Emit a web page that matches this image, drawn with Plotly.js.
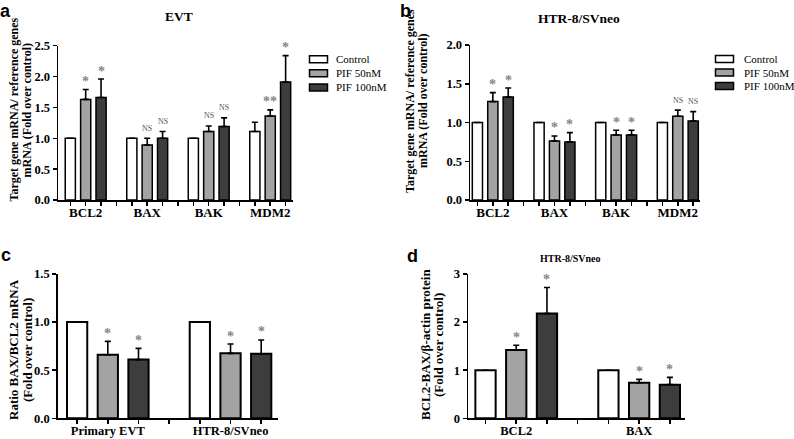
<!DOCTYPE html>
<html>
<head>
<meta charset="utf-8">
<script src="https://cdn.plot.ly/plotly-3.0.1.min.js"></script>
<style>html,body{margin:0;padding:0;background:#fff;}#chart{width:794px;height:439px;}</style>
</head>
<body>
<div id="chart"></div>
<script>
// ---------- DATA ----------
const seriesNames = ['Control', 'PIF 50nM', 'PIF 100nM'];

// Panel a: EVT
const evtGenes = ['BCL2', 'BAX', 'BAK', 'MDM2'];
const evtControl = [1.00, 1.00, 1.00, 1.11];
const evtPif50 = [1.63, 0.89, 1.11, 1.36];
const evtPif100 = [1.66, 1.00, 1.19, 1.91];
const evtControlErr = [0, 0, 0, 0.15];
const evtPif50Err = [0.16, 0.11, 0.09, 0.10];
const evtPif100Err = [0.30, 0.11, 0.14, 0.43];
const evtPif50Sig = ['*', 'NS', 'NS', '**'];
const evtPif100Sig = ['*', 'NS', 'NS', '*'];

// Panel b: HTR-8/SVneo mRNA
const htrGenes = ['BCL2', 'BAX', 'BAK', 'MDM2'];
const htrControl = [1.00, 1.00, 1.00, 1.00];
const htrPif50 = [1.27, 0.76, 0.84, 1.08];
const htrPif100 = [1.33, 0.75, 0.84, 1.02];
const htrControlErr = [0, 0, 0, 0];
const htrPif50Err = [0.115, 0.066, 0.06, 0.08];
const htrPif100Err = [0.115, 0.12, 0.06, 0.12];
const htrPif50Sig = ['*', '*', '*', 'NS'];
const htrPif100Sig = ['*', '*', '*', 'NS'];

// Panel c: ratio BAX/BCL2 mRNA
const ratioCells = ['Primary EVT', 'HTR-8/SVneo'];
const ratioControl = [1.00, 1.00];
const ratioPif50 = [0.66, 0.675];
const ratioPif100 = [0.61, 0.67];
const ratioControlErr = [0, 0];
const ratioPif50Err = [0.14, 0.097];
const ratioPif100Err = [0.117, 0.144];
const ratioPif50Sig = ['*', '*'];
const ratioPif100Sig = ['*', '*'];

// Panel d: protein HTR-8/SVneo
const protGenes = ['BCL2', 'BAX'];
const protControl = [1.00, 1.00];
const protPif50 = [1.42, 0.74];
const protPif100 = [2.18, 0.70];
const protControlErr = [0, 0];
const protPif50Err = [0.10, 0.07];
const protPif100Err = [0.54, 0.15];
const protPif50Sig = ['*', '*'];
const protPif100Sig = ['*', '*'];

// ---------- STYLE / LAYOUT ----------
const W = 794, H = 439;
const fx = x => x / W;
const fy = y => 1 - y / H;
const SERIF = 'Liberation Serif, Times New Roman, serif';
const SANS = 'Liberation Sans, Arial, sans-serif';
const fills = ['#ffffff', '#a3a3a3', '#3d3d3d'];
const starColor = '#858585';

const traces = [];
const annotations = [];
const shapes = [];

function addPanel(xa, ya, cats, values, errs, sigs, lineW) {
  values.forEach((vals, s) => {
    traces.push({
      type: 'bar', xaxis: xa, yaxis: ya, name: seriesNames[s], showlegend: false,
      x: cats.map((c, i) => i), y: vals,
      marker: { color: fills[s], line: { color: 'black', width: lineW } },
      error_y: { type: 'data', symmetric: false, array: errs[s], arrayminus: vals.map(() => 0),
                 color: 'black', thickness: 1.6, width: 3 },
      hoverinfo: 'skip'
    });
  });
  sigs.forEach((sig, k) => {
    const s = k + 1;
    sig.forEach((txt, i) => {
      const isStar = txt.indexOf('*') >= 0;
      annotations.push({
        xref: xa, yref: ya, x: i + (s - 1) * 0.25, y: values[s][i] + errs[s][i],
        text: txt, showarrow: false, xanchor: 'center', yanchor: 'middle',
        yshift: isStar ? 8 : 10,
        font: { family: SERIF, size: isStar ? 14 : 8, color: isStar ? starColor : '#555555',
                weight: isStar ? 'bold' : 'normal' }
      });
    });
  });
}

function quarterTicks(cats) {
  const vals = [], text = [];
  cats.forEach((c, i) => {
    [-0.25, 0, 0.25, 0.5].forEach(o => { vals.push(i + o); text.push(o === 0 ? c : ''); });
  });
  return { vals, text };
}

function xAxis(domPx, range, cats, fontSize, lw, anchor) {
  const t = quarterTicks(cats);
  return {
    domain: [fx(domPx[0]), fx(domPx[1])], range: range, anchor: anchor,
    tickmode: 'array', tickvals: t.vals, ticktext: t.text,
    ticks: 'outside', ticklen: 4, tickwidth: 1.5, tickcolor: 'black',
    ticklabelstandoff: -4,
    showline: true, linecolor: 'black', linewidth: lw,
    showgrid: false, zeroline: false, fixedrange: true,
    tickfont: { family: SERIF, size: fontSize, color: 'black', weight: 'bold' }
  };
}
function yAxis(domPx, max, dtick, fmt, lw, anchor) {
  const vals = [];
  for (let v = 0; v <= max + 1e-9; v += dtick) vals.push(+v.toFixed(3));
  return {
    domain: [fy(domPx[1]), fy(domPx[0])], range: [0, max], anchor: anchor,
    tickmode: 'array', tickvals: vals, tickformat: fmt,
    ticks: 'outside', ticklen: 4, tickwidth: 1.5, tickcolor: 'black',
    showline: true, linecolor: 'black', linewidth: lw,
    showgrid: false, zeroline: false, fixedrange: true,
    tickfont: { family: SERIF, size: 12.5, color: 'black', weight: 'bold' }
  };
}

addPanel('x', 'y', evtGenes, [evtControl, evtPif50, evtPif100],
         [evtControlErr, evtPif50Err, evtPif100Err], [evtPif50Sig, evtPif100Sig], 1.5);
addPanel('x2', 'y2', htrGenes, [htrControl, htrPif50, htrPif100],
         [htrControlErr, htrPif50Err, htrPif100Err], [htrPif50Sig, htrPif100Sig], 1.5);
addPanel('x3', 'y3', ratioCells, [ratioControl, ratioPif50, ratioPif100],
         [ratioControlErr, ratioPif50Err, ratioPif100Err], [ratioPif50Sig, ratioPif100Sig], 2);
addPanel('x4', 'y4', protGenes, [protControl, protPif50, protPif100],
         [protControlErr, protPif50Err, protPif100Err], [protPif50Sig, protPif100Sig], 2);

function addLegend(boxX, textX, rowsY) {
  seriesNames.forEach((n, s) => {
    shapes.push({ type: 'rect', xref: 'paper', yref: 'paper',
      x0: fx(boxX), x1: fx(boxX + 18), y0: fy(rowsY[s] + 3.5), y1: fy(rowsY[s] - 3.5),
      fillcolor: fills[s], line: { color: 'black', width: 1.5 } });
    annotations.push({ xref: 'paper', yref: 'paper', x: fx(textX), y: fy(rowsY[s]),
      xanchor: 'left', yanchor: 'middle', showarrow: false, text: n,
      font: { family: SERIF, size: 11, color: 'black' } });
  });
}
addLegend(309.5, 334, [59.3, 73.3, 87.5]);
addLegend(715.5, 742, [59, 72.5, 86]);

function label(text, x, y, size, family, weight, opts) {
  annotations.push(Object.assign({ xref: 'paper', yref: 'paper', x: fx(x), y: fy(y),
    showarrow: false, text: text, xanchor: 'center', yanchor: 'middle',
    font: { family: family, size: size, color: 'black', weight: weight } }, opts || {}));
}
label('a', -1, 0, 18, SANS, 'bold', { xanchor: 'left', yanchor: 'top', borderpad: 0 });
label('b', 399, 0, 18, SANS, 'bold', { xanchor: 'left', yanchor: 'top', borderpad: 0 });
label('c', -1, 255, 18, SANS, 'bold', { xanchor: 'left' });
label('d', 405, 256, 18, SANS, 'bold', { xanchor: 'left' });
label('EVT', 179, 17, 13.5, SERIF, 'bold');
label('HTR-8/SVneo', 579, 18.5, 13.5, SERIF, 'bold');
label('HTR-8/SVneo', 570, 258, 10, SERIF, 'bold');
label('Target gene mRNA/ reference genes', 13.5, 110, 12, SERIF, 'bold', { textangle: -90 });
label('mRNA (Fold over control)', 26.5, 110, 12, SERIF, 'bold', { textangle: -90 });
label('Target gene mRNA/ reference genes', 410, 101, 12, SERIF, 'bold', { textangle: -90 });
label('mRNA (Fold over control)', 423, 101, 12, SERIF, 'bold', { textangle: -90 });
label('Ratio BAX/BCL2 mRNA', 13, 350, 13, SERIF, 'bold', { textangle: -90 });
label('(Fold over control)', 27, 350, 13, SERIF, 'bold', { textangle: -90 });
label('BCL2-BAX/β-actin protein', 425, 345, 13, SERIF, 'bold', { textangle: -90 });
label('(Fold over control)', 438, 345, 13, SERIF, 'bold', { textangle: -90 });

const layout = {
  width: W, height: H, margin: { l: 0, r: 0, t: 0, b: 0 },
  paper_bgcolor: '#ffffff', plot_bgcolor: '#ffffff',
  showlegend: false, barmode: 'group', bargap: 0.25, bargroupgap: 0.34,
  xaxis: xAxis([58, 293], [-0.45, 3.37], evtGenes, 13, 1.5, 'y'),
  yaxis: yAxis([45.7, 200], 2.5, 0.5, '.1f', 1.5, 'x'),
  xaxis2: xAxis([470, 700], [-0.37, 3.36], htrGenes, 13, 1.5, 'y2'),
  yaxis2: yAxis([45, 200], 2.0, 0.5, '.1f', 1.5, 'x2'),
  xaxis3: xAxis([58, 278], [-0.406, 1.387], ratioCells, 12.5, 1.8, 'y3'),
  yaxis3: yAxis([274, 418.3], 1.5, 0.5, '.1f', 1.8, 'x3'),
  xaxis4: xAxis([468.3, 685], [-0.39, 1.373], protGenes, 12.5, 1.8, 'y4'),
  yaxis4: yAxis([274, 418.3], 3, 1, 'd', 1.8, 'x4'),
  annotations: annotations, shapes: shapes
};

Plotly.newPlot('chart', traces, layout, { displayModeBar: false, staticPlot: true });
</script>
</body>
</html>
